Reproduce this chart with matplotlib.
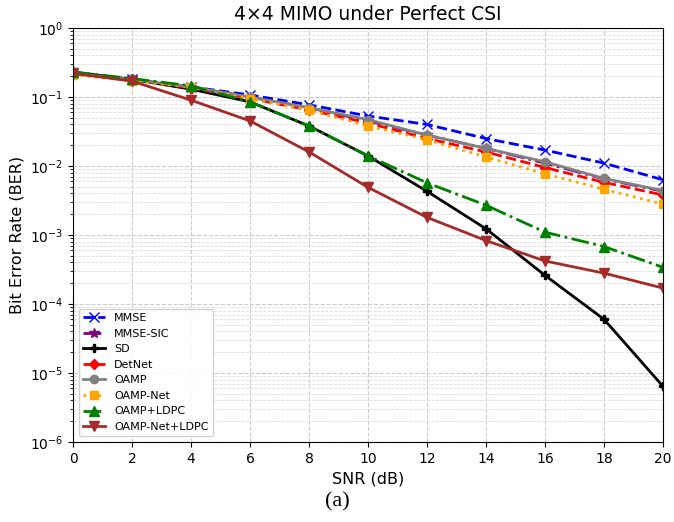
import matplotlib
matplotlib.use("Agg")
import matplotlib.pyplot as plt
import numpy as np

snr = [0, 2, 4, 6, 8, 10, 12, 14, 16, 18, 20]
mmse = [0.22, 0.18, 0.14, 0.107, 0.077, 0.053, 0.040, 0.025, 0.017, 0.011, 0.0063]
mmse_sic = [0.22, 0.18, 0.14, 0.100, 0.070, 0.045, 0.028, 0.018, 0.011, 0.0065, 0.0043]
sd = [0.23, 0.18, 0.13, 0.085, 0.038, 0.014, 0.0043, 0.00123, 0.00026, 6.0e-5, 6.4e-6]
detnet = [0.22, 0.18, 0.135, 0.095, 0.065, 0.042, 0.025, 0.016, 0.0095, 0.0058, 0.0038]
oamp = [0.22, 0.18, 0.14, 0.100, 0.070, 0.047, 0.028, 0.018, 0.0115, 0.0066, 0.0044]
oamp_net = [0.21, 0.17, 0.14, 0.095, 0.065, 0.038, 0.024, 0.0135, 0.0077, 0.0046, 0.0028]
oamp_ldpc = [0.23, 0.185, 0.145, 0.085, 0.038, 0.014, 0.0057, 0.0027, 0.0011, 0.00068, 0.00034]
oampnet_ldpc = [0.22, 0.17, 0.09, 0.045, 0.016, 0.0049, 0.0018, 0.00083, 0.00042, 0.00028, 0.00017]

fig = plt.figure(figsize=(6.74, 5.22), dpi=100)
ax = fig.add_axes([73/674, 1-442/522, 590/674, 414/522])

ms = 6
ax.semilogy(snr, mmse, color='blue', ls='--', marker='x', ms=ms+1, lw=2, label='MMSE')
ax.semilogy(snr, mmse_sic, color='purple', ls='-.', marker='*', ms=ms+1, lw=2, label='MMSE-SIC')
ax.semilogy(snr, sd, color='black', ls='-', marker='P', ms=ms, lw=2, label='SD')
ax.semilogy(snr, detnet, color='red', ls='--', marker='D', ms=ms-0.5, lw=2, label='DetNet')
ax.semilogy(snr, oamp, color='gray', ls='-', marker='o', ms=ms, lw=2, label='OAMP')
ax.semilogy(snr, oamp_net, color='orange', ls=':', marker='s', ms=ms, lw=2, label='OAMP-Net')
ax.semilogy(snr, oamp_ldpc, color='green', ls='-.', marker='^', ms=ms+1, lw=2, label='OAMP+LDPC')
ax.semilogy(snr, oampnet_ldpc, color='brown', ls='-', marker='v', ms=ms+1, lw=2, label='OAMP-Net+LDPC')

ax.set_xlim(0, 20)
ax.set_ylim(1e-6, 1)
ax.set_xticks(snr)
ax.grid(True, which='major', ls='--', color='#cccccc', lw=0.8)
ax.grid(True, which='minor', axis='y', ls='--', color='#dddddd', lw=0.6)
ax.set_xlabel('SNR (dB)', fontsize=11.5)
ax.set_ylabel('Bit Error Rate (BER)', fontsize=11.5)
ax.set_title('4×4 MIMO under Perfect CSI', fontsize=13.5)
ax.legend(loc='lower left', fontsize=8, framealpha=0.9)
ax.tick_params(labelsize=10)

fig.text(0.5, 1-502/522, '(a)', ha='center', va='center', fontsize=16, family='Liberation Serif')

fig.savefig('out.png', dpi=100)
